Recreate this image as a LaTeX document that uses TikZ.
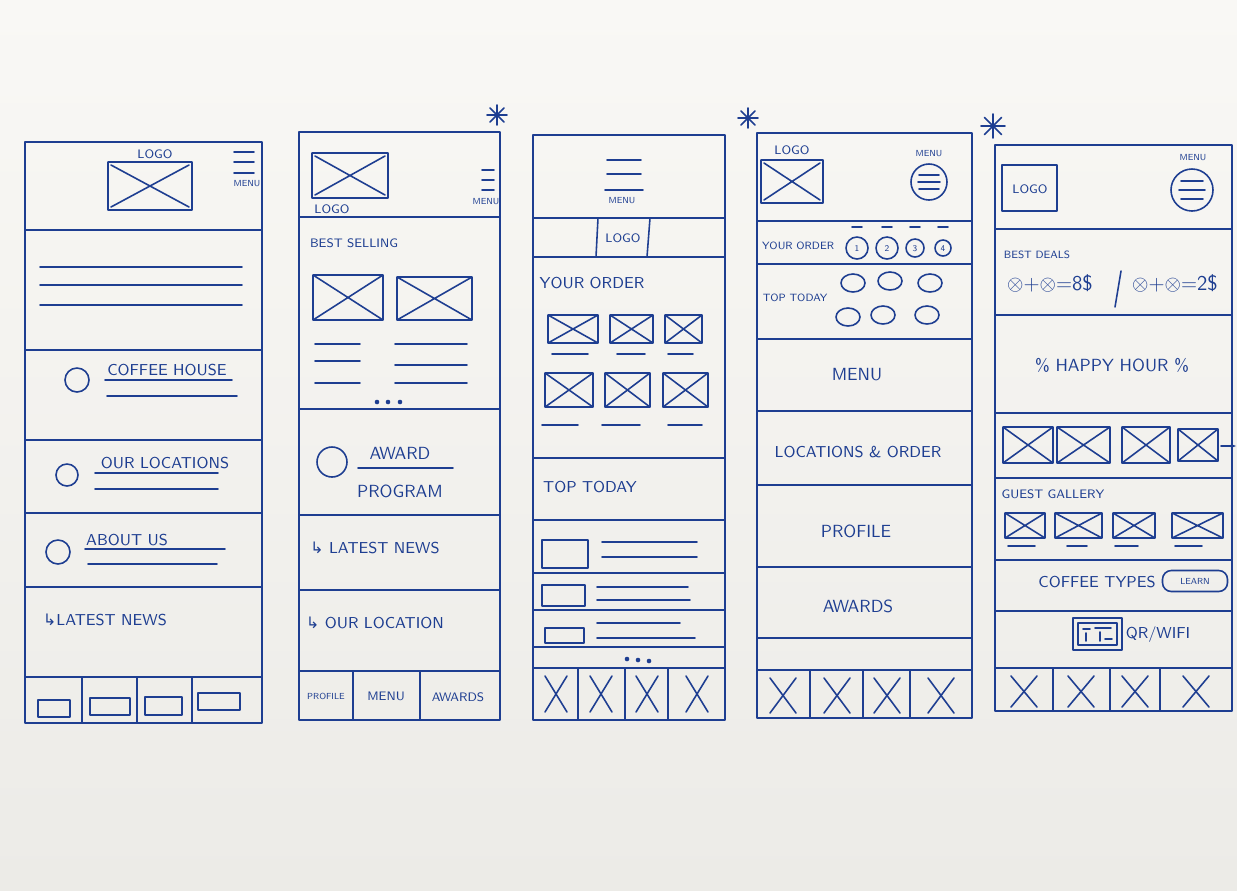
\documentclass[tikz,border=0pt]{standalone}
\usepackage{fontspec}
\newfontfamily\flechafont{DejaVu Sans}
\usetikzlibrary{positioning, arrows.meta}

\definecolor{tinta}{RGB}{30,62,145}
\definecolor{papel}{RGB}{249,248,245}
\definecolor{papelbajo}{RGB}{236,235,231}

\begin{document}
\begin{tikzpicture}[
    x=0.02cm, y=-0.02cm,
    % Estilos para los trazos
    trazo/.style={draw=tinta, line width=0.9pt, line cap=round, line join=round},
    mano/.style={trazo, line width=1pt},
    punto/.style={fill=tinta},
    % Estilos para los textos
    texto/.style={text=tinta, font=\sffamily\small, inner sep=1pt},
    texto_chico/.style={text=tinta, font=\sffamily\scriptsize, inner sep=1pt},
    texto_lateral/.style={text=tinta, font=\sffamily\fontsize{6}{7}\selectfont, inner sep=1pt},
    texto_mini/.style={text=tinta, font=\sffamily\tiny, inner sep=1pt},
    texto_grande/.style={text=tinta, font=\sffamily\normalsize, inner sep=1pt},
    boton/.style={draw=tinta, line width=0.9pt, rounded corners=5pt, text=tinta, font=\sffamily\tiny, minimum width=1.3cm, minimum height=0.42cm, inner sep=1pt}
    ]

    % Fondo (hoja de papel)
    \shade[top color=papel, bottom color=papelbajo] (0,0) rectangle (1237,890);
    \useasboundingbox (0,0) rectangle (1237,890);

    % PANTALLA 1 - Inicio
    \draw[mano] (25,142) rectangle (262,723);
    \foreach \y in {230,350,440,513,587,677} \draw[mano] (25,\y) -- (262,\y);
    \node[texto_chico] (p1logo) at (155,154) {LOGO};
    \draw[trazo] (108,162) rectangle (192,210) (111,207) -- (189,165) (111,165) -- (189,207);
    \foreach \y in {152,162,173} \draw[trazo] (234,\y) -- (254,\y);
    \node[texto_mini] (p1menu) at (247,184) {MENU};
    \foreach \y in {267,285,305} \draw[trazo] (40,\y) -- (242,\y);
    % Filas con icono
    \draw[trazo] (77,380) circle (12);
    \node[texto] (p1cafe) at (167,370) {COFFEE HOUSE};
    \draw[trazo] (105,380) -- (232,380) (107,396) -- (237,396);
    \draw[trazo] (67,475) circle (11);
    \node[texto] (p1locales) at (165,463) {OUR LOCATIONS};
    \draw[trazo] (95,473) -- (218,473) (95,489) -- (218,489);
    \draw[trazo] (58,552) circle (12);
    \node[texto] (p1nosotros) at (127,540) {ABOUT US};
    \draw[trazo] (85,549) -- (225,549) (88,564) -- (217,564);
    \node[texto] (p1noticias) at (105,620) {{\flechafont ↳}LATEST NEWS};
    % Barra inferior
    \foreach \x in {82,137,192} \draw[trazo] (\x,677) -- (\x,723);
    \foreach \xa/\ya/\xb/\yb in {38/700/70/717, 90/698/130/715, 145/697/182/715, 198/693/240/710}
        \draw[trazo] (\xa,\ya) rectangle (\xb,\yb);

    % PANTALLA 2 - Destacados
    \draw[mano] (299,132) rectangle (500,720);
    \foreach \a in {0,45,90,135} \draw[trazo] (497,115) ++(\a:10) -- ++(\a+180:20);
    \foreach \y in {217,409,515,590,671} \draw[mano] (299,\y) -- (500,\y);
    \draw[trazo] (312,153) rectangle (388,198) (315,195) -- (385,156) (315,156) -- (385,195);
    \node[texto_chico] (p2logo) at (332,209) {LOGO};
    \foreach \y in {170,180,190} \draw[trazo] (482,\y) -- (494,\y);
    \node[texto_mini] (p2menu) at (486,202) {MENU};
    \node[texto_chico] (p2mas) at (354,243) {BEST SELLING};
    \foreach \xa/\ya/\xb/\yb in {313/275/383/320, 397/277/472/320}
        \draw[trazo] (\xa,\ya) rectangle (\xb,\yb) (\xa,\yb) -- (\xb,\ya) (\xa,\ya) -- (\xb,\yb);
    \foreach \y in {344,361,383} \draw[trazo] (315,\y) -- (360,\y);
    \foreach \y in {344,365,383} \draw[trazo] (395,\y) -- (467,\y);
    \foreach \x in {377,388,400} \fill[punto] (\x,402) circle (2.3);
    \draw[trazo] (332,462) circle (15);
    \node[texto_grande] (p2premio) at (400,453) {AWARD};
    \draw[trazo] (358,468) -- (453,468);
    \node[texto_grande] (p2programa) at (400,491) {PROGRAM};
    \node[texto] (p2noticias) at (375,548) {{\flechafont ↳} LATEST NEWS};
    \node[texto] (p2local) at (375,623) {{\flechafont ↳} OUR LOCATION};
    % Barra inferior
    \foreach \x in {353,420} \draw[trazo] (\x,671) -- (\x,720);
    \node[texto_mini] (p2perfil) at (326,696) {PROFILE};
    \node[texto_chico] (p2menu2) at (386,696) {MENU};
    \node[texto_chico] (p2premios) at (458,697) {AWARDS};

    % PANTALLA 3 - Pedido
    \draw[mano] (533,135) rectangle (725,720);
    \foreach \y in {218,257,458,520,573,610,647,668} \draw[mano] (533,\y) -- (725,\y);
    \draw[trazo] (607,160) -- (641,160) (607,174) -- (641,174) (605,190) -- (643,190);
    \node[texto_mini] (p3menu) at (622,201) {MENU};
    \draw[trazo] (598,218) -- (596,257) (650,218) -- (647,257);
    \node[texto_chico] (p3logo) at (623,238) {LOGO};
    \node[texto] (p3pedido) at (592,283) {YOUR ORDER};
    \foreach \xa/\ya/\xb/\yb in {548/315/598/343, 610/315/653/343, 665/315/702/343, 545/373/593/407, 605/373/650/407, 663/373/708/407}
        \draw[trazo] (\xa,\ya) rectangle (\xb,\yb) (\xa,\yb) -- (\xb,\ya) (\xa,\ya) -- (\xb,\yb);
    \foreach \xa/\xb/\y in {552/588/354, 617/645/354, 668/693/354, 542/578/425, 602/640/425, 668/702/425}
        \draw[trazo] (\xa,\y) -- (\xb,\y);
    \node[texto] (p3top) at (590,487) {TOP TODAY};
    % Lista
    \draw[trazo] (542,540) rectangle (588,568) (542,585) rectangle (585,606) (545,628) rectangle (584,643);
    \draw[trazo] (602,542) -- (697,542) (602,557) -- (697,557);
    \draw[trazo] (597,587) -- (688,587) (597,600) -- (690,600);
    \draw[trazo] (597,623) -- (680,623) (597,638) -- (695,638);
    \foreach \x/\y in {627/659, 638/660, 649/661} \fill[punto] (\x,\y) circle (2.3);
    % Barra inferior
    \foreach \x in {578,625,668} \draw[trazo] (\x,668) -- (\x,720);
    \foreach \x in {556,601,647,697} \draw[trazo] ({\x-11},676) -- ({\x+11},712) ({\x-11},712) -- ({\x+11},676);

    % PANTALLA 4 - Menu en bloques
    \draw[mano] (757,133) rectangle (972,718);
    \foreach \a in {0,45,90,135} \draw[trazo] (748,118) ++(\a:10) -- ++(\a+180:20);
    \foreach \y in {221,264,339,411,485,567,638,670} \draw[mano] (757,\y) -- (972,\y);
    \node[texto_chico] (p4logo) at (792,150) {LOGO};
    \draw[trazo] (761,160) rectangle (823,203) (764,200) -- (820,163) (764,163) -- (820,200);
    \node[texto_mini] (p4menu) at (929,154) {MENU};
    \draw[trazo] (929,182) circle (18);
    \draw[trazo] (919,175) -- (939,175) (918,182) -- (940,182) (919,189) -- (939,189);
    \node[texto_lateral] (p4pedido) at (798,246) {YOUR ORDER};
    \foreach \x/\r/\n in {857/11/1, 887/11/2, 915/9/3, 943/8/4} {
        \draw[trazo] (\x,248) circle (\r);
        \draw[trazo] ({\x-5},227) -- ({\x+5},227);
        \node[texto_mini] (p4n\n) at (\x,249) {\n};
    }
    \node[texto_lateral] (p4top) at (795,298) {TOP TODAY};
    \foreach \x/\y in {853/283, 890/281, 930/283, 848/317, 883/315, 927/315}
        \draw[trazo] (\x,\y) ellipse (12 and 9);
    \node[texto_grande] (p4carta) at (857,375) {MENU};
    \node[texto] (p4locales) at (858,452) {LOCATIONS \& ORDER};
    \node[texto_grande] (p4perfil) at (856,531) {PROFILE};
    \node[texto_grande] (p4premios) at (858,606) {AWARDS};
    % Barra inferior
    \foreach \x in {810,863,910} \draw[trazo] (\x,670) -- (\x,718);
    \foreach \x in {783,837,887,941} \draw[trazo] ({\x-13},678) -- ({\x+13},713) ({\x-13},713) -- ({\x+13},678);

    % PANTALLA 5 - Ofertas
    \draw[mano] (995,145) rectangle (1232,711);
    \foreach \a in {0,45,90,135} \draw[trazo] (993,126) ++(\a:12) -- ++(\a+180:24);
    \foreach \y in {229,315,413,478,560,611,668} \draw[mano] (995,\y) -- (1232,\y);
    \draw[trazo] (1002,165) rectangle (1057,211);
    \node[texto_chico] (p5logo) at (1030,189) {LOGO};
    \node[texto_mini] (p5menu) at (1193,158) {MENU};
    \draw[trazo] (1192,190) circle (21);
    \draw[trazo] (1181,181) -- (1203,181) (1179,190) -- (1205,190) (1181,199) -- (1203,199);
    \node[texto_lateral] (p5ofertas) at (1037,255) {BEST DEALS};
    \node[texto_grande, font=\sffamily\large] (p5combo1) at (1050,283) {$\otimes$+$\otimes$=8\$};
    \draw[trazo] (1121,271) -- (1115,307);
    \node[texto_grande, font=\sffamily\large] (p5combo2) at (1175,283) {$\otimes$+$\otimes$=2\$};
    \node[texto_grande] (p5feliz) at (1112,365) {\% HAPPY HOUR \%};
    \foreach \xa/\ya/\xb/\yb in {1003/427/1053/463, 1057/427/1110/463, 1122/427/1170/463, 1178/429/1218/461}
        \draw[trazo] (\xa,\ya) rectangle (\xb,\yb) (\xa,\yb) -- (\xb,\ya) (\xa,\ya) -- (\xb,\yb);
    \draw[trazo, -{Stealth[length=3pt]}] (1221,446) -- (1236,446);
    \node[texto_chico] (p5galeria) at (1053,494) {GUEST GALLERY};
    \foreach \xa/\ya/\xb/\yb in {1005/513/1045/538, 1055/513/1102/538, 1113/513/1155/538, 1172/513/1223/538}
        \draw[trazo] (\xa,\ya) rectangle (\xb,\yb) (\xa,\yb) -- (\xb,\ya) (\xa,\ya) -- (\xb,\yb);
    \foreach \xa/\xb in {1008/1035, 1067/1087, 1115/1138, 1175/1202} \draw[trazo] (\xa,546) -- (\xb,546);
    \node[texto] (p5tipos) at (1097,582) {COFFEE TYPES};
    \node[boton] (p5aprender) at (1195,581) {LEARN};
    % Icono QR
    \draw[trazo] (1073,618) rectangle (1122,650) (1078,623) rectangle (1117,645);
    \draw[trazo] (1083,629) -- (1090,629) (1095,628) -- (1111,628) (1086,633) -- (1086,641)
        (1100,632) -- (1100,641) (1105,639) -- (1112,639);
    \node[texto] (p5qr) at (1158,635) {QR/WIFI};
    % Barra inferior
    \foreach \x in {1053,1110,1160} \draw[trazo] (\x,668) -- (\x,711);
    \foreach \x in {1024,1081,1135,1196} \draw[trazo] ({\x-13},676) -- ({\x+13},707) ({\x-13},707) -- ({\x+13},676);

\end{tikzpicture}
\end{document}
